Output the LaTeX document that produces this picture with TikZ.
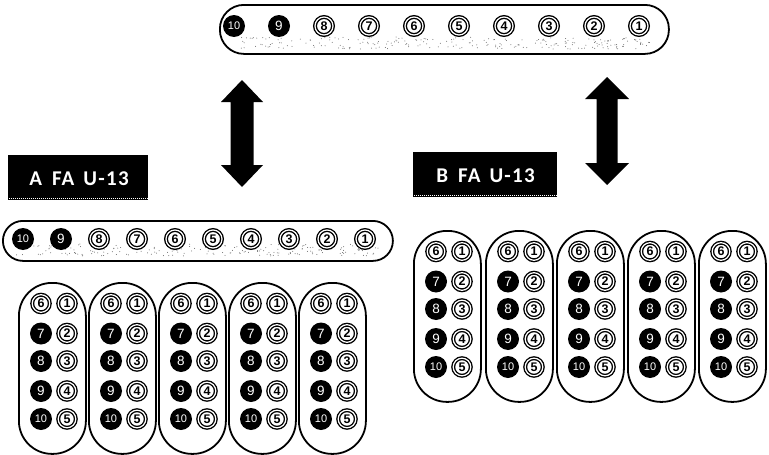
\documentclass[tikz,border=0pt]{standalone}
\usepackage{fontspec}
\setmainfont{Liberation Sans}
\newfontfamily\labelfont[LetterSpace=6]{Carlito}
\usetikzlibrary{calc}

\tikzset{
  seatbar/.style={draw, line width=1.8pt, anchor=north west, inner sep=0pt},
  capsule/.style={draw, line width=1.8pt, rounded corners=33pt, anchor=north west,
    inner sep=0pt, minimum width=67pt, minimum height=171pt},
  dark/.style={circle, fill=black, text=white, inner sep=0pt, minimum size=22pt,
    font=\fontsize{13.5}{13.5}\selectfont},
  darksmall/.style={dark, font=\fontsize{11}{11}\selectfont},
  ring/.style={circle, draw=black, line width=1.35pt, double=white, double distance=1.25pt,
    inner sep=0pt, minimum size=17.6pt, font=\bfseries\fontsize{12.5}{12.5}\selectfont},
  tag/.style={fill=black, anchor=north west, inner sep=0pt},
  tagtext/.style={text=white, anchor=base, inner sep=0pt,
    font=\labelfont\bfseries\fontsize{21}{21}\selectfont},
  speck/.style={fill=black!60},
}

% one group of ten seats: outer capsule, left column 6..10, right column 1..5
\newcommand\seatgroup[3]{%
  \node[capsule] (#1) at (#2,#3) {};
  \begin{scope}[shift={(#2,#3)}]
    \node[ring] (#1-6) at (23,21.5) {6};
    \node[ring] (#1-1) at (49,21.5) {1};
    \node[dark] (#1-7) at (23,51.5) {7};
    \node[ring] (#1-2) at (49,51.5) {2};
    \node[dark] (#1-8) at (23,79) {8};
    \node[ring] (#1-3) at (49,79) {3};
    \node[dark] (#1-9) at (23,109) {9};
    \node[ring] (#1-4) at (49,109) {4};
    \node[darksmall] (#1-10) at (23,137) {10};
    \node[ring] (#1-5) at (49,137) {5};
  \end{scope}}

% a row of seats 10..1 inside a rounded bar
% #1 name, #2 first x, #3 step, #4 y
\newcommand\seatrow[4]{%
  \node[darksmall] (#1-10) at (#2,#4) {10};
  \node[dark] (#1-9) at ({#2+#3},#4) {9};
  \foreach \n [count=\i from 2] in {8,7,...,1}{
    \node[ring, minimum size=18pt] (#1-\n) at ({#2+#3*\i},#4) {\n};
  }}

% grain in the lower half of a bar
% #1 x from, #2 x width, #3 y from, #4 y height, #5 count
\newcommand\bargrain[5]{%
  \foreach \k in {1,...,#5}{
    \pgfmathsetmacro\gx{#1+rnd*#2}
    \pgfmathsetmacro\gy{#3+rnd*#4}
    \fill[speck] (\gx,\gy) circle (0.5);
  }}

% vertical double-headed block arrow
% #1 name, #2 centre x, #3 top y, #4 bottom y, #5 head half width, #6 shaft half width
\newcommand\blockarrow[6]{%
  \coordinate (#1-top) at (#2,#3);
  \coordinate (#1-bot) at (#2,#4);
  \fill (#1-top) -- ({#2+#5},{#3+22}) -- ({#2+#6},{#3+22}) -- ({#2+#6},{#4-22})
    -- ({#2+#5},{#4-22}) -- (#1-bot) -- ({#2-#5},{#4-22}) -- ({#2-#6},{#4-22})
    -- ({#2-#6},{#3+22}) -- ({#2-#5},{#3+22}) -- cycle;}

\begin{document}
\begin{tikzpicture}[x=1pt,y=-1pt]
  \useasboundingbox (0,0) rectangle (769,455);
  \pgfmathsetseed{4711}

  % common row at the top
  \node[seatbar, rounded corners=24pt, minimum width=449pt, minimum height=49pt] (top) at (219,4) {};
  \bargrain{240}{410}{37}{12}{230}
  \seatrow{top}{234}{45}{26}

  % arrows between the common row and the two layouts
  \blockarrow{arrA}{242}{80}{187}{21}{11.5}
  \blockarrow{arrB}{607}{77}{185}{22}{10.5}

  % layout A
  \node[tag, minimum width=140pt, minimum height=45pt] (tagA) at (8,155) {};
  \draw[white, densely dotted, line width=1pt] ($(tagA.south west)+(1,-2)$) -- ($(tagA.south east)+(-1,-2)$);
  \node[tagtext] (tagAtext) at (79,185) {A\hspace{10pt}FA\hspace{9pt}U-13};

  \node[seatbar, rounded corners=20pt, minimum width=390pt, minimum height=40pt] (rowA) at (2,220) {};
  \bargrain{14}{365}{244}{12}{200}
  \seatrow{rowA}{23}{38}{239}

  \seatgroup{A1}{18}{282}
  \seatgroup{A2}{88}{282}
  \seatgroup{A3}{158}{282}
  \seatgroup{A4}{228}{282}
  \seatgroup{A5}{298}{282}

  % layout B
  \node[tag, minimum width=144pt, minimum height=45pt] (tagB) at (413,152) {};
  \draw[white, densely dotted, line width=1pt] ($(tagB.south west)+(1,-2)$) -- ($(tagB.south east)+(-1,-2)$);
  \node[tagtext] (tagBtext) at (485.5,182) {B\hspace{10pt}FA\hspace{9pt}U-13};

  \seatgroup{B1}{413}{230}
  \seatgroup{B2}{485}{230}
  \seatgroup{B3}{556}{230}
  \seatgroup{B4}{627}{230}
  \seatgroup{B5}{698}{230}
\end{tikzpicture}
\end{document}
